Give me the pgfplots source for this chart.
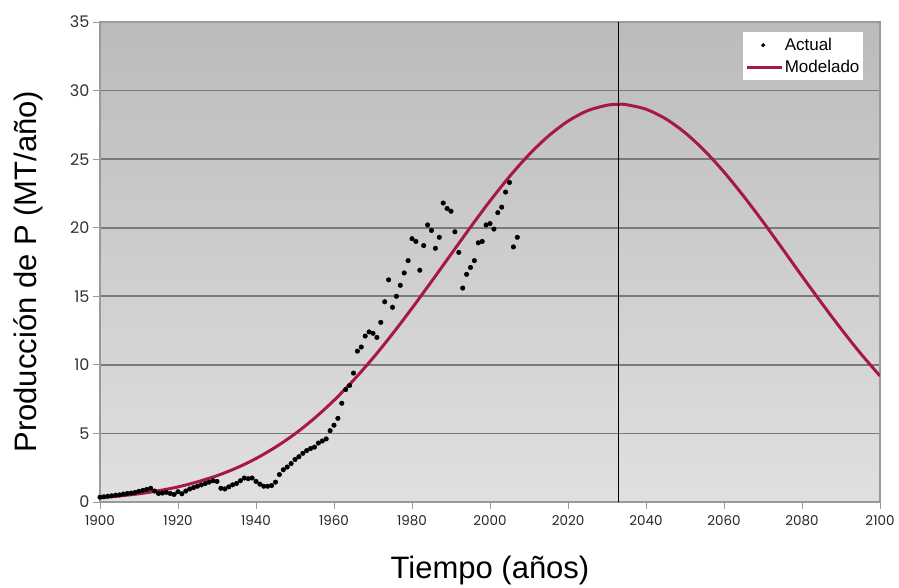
\documentclass[border=0pt]{standalone}
\usepackage{fontspec}
\setmainfont{Liberation Sans}
\newfontfamily\tickfont{Poppins}
\usepackage{pgfplots}
\usepackage{pgfplotstable}
\pgfplotsset{compat=1.18}

\definecolor{modelred}{HTML}{A8164F}
\definecolor{gridgray}{HTML}{7A7A7A}
\definecolor{frame}{HTML}{9A9A9A}
\definecolor{bgtop}{HTML}{BBBBBB}
\definecolor{bgbottom}{HTML}{E0E0E0}

% Annual phosphate rock production (MT/year)
\pgfplotstableread{
year prod
1900 0.35
1901 0.38
1902 0.42
1903 0.45
1904 0.50
1905 0.52
1906 0.58
1907 0.62
1908 0.65
1909 0.70
1910 0.78
1911 0.85
1912 0.92
1913 1.00
1914 0.80
1915 0.62
1916 0.65
1917 0.70
1918 0.62
1919 0.55
1920 0.75
1921 0.60
1922 0.80
1923 0.95
1924 1.05
1925 1.15
1926 1.25
1927 1.35
1928 1.45
1929 1.55
1930 1.50
1931 1.00
1932 0.95
1933 1.10
1934 1.25
1935 1.35
1936 1.55
1937 1.75
1938 1.70
1939 1.75
1940 1.50
1941 1.30
1942 1.15
1943 1.15
1944 1.20
1945 1.45
1946 2.00
1947 2.35
1948 2.55
1949 2.80
1950 3.10
1951 3.30
1952 3.55
1953 3.75
1954 3.90
1955 4.00
1956 4.30
1957 4.45
1958 4.60
1959 5.20
1960 5.60
1961 6.10
1962 7.20
1963 8.20
1964 8.50
1965 9.40
1966 11.00
1967 11.30
1968 12.10
1969 12.40
1970 12.30
1971 12.00
1972 13.10
1973 14.60
1974 16.20
1975 14.20
1976 15.00
1977 15.80
1978 16.70
1979 17.60
1980 19.20
1981 19.00
1982 16.90
1983 18.70
1984 20.20
1985 19.80
1986 18.50
1987 19.30
1988 21.80
1989 21.40
1990 21.20
1991 19.70
1992 18.20
1993 15.60
1994 16.60
1995 17.10
1996 17.60
1997 18.90
1998 19.00
1999 20.20
2000 20.30
2001 19.90
2002 21.10
2003 21.50
2004 22.60
2005 23.30
2006 18.60
2007 19.30
}\actualdata

% Modelled production curve (MT/year)
\pgfplotstableread{
year prod
1900 0.31
1905 0.44
1910 0.60
1915 0.82
1920 1.10
1925 1.47
1930 1.92
1935 2.48
1940 3.17
1945 4.00
1950 4.97
1955 6.11
1960 7.41
1965 8.88
1970 10.50
1975 12.26
1980 14.13
1985 16.08
1990 18.06
1995 20.04
2000 21.95
2005 23.73
2010 25.33
2015 26.69
2020 27.77
2025 28.53
2030 28.93
2033 29.00
2035 28.97
2040 28.64
2045 27.95
2050 26.93
2055 25.62
2060 24.06
2065 22.31
2070 20.43
2075 18.46
2080 16.47
2085 14.52
2090 12.63
2095 10.84
2100 9.19
}\modeldata

\begin{document}
\begin{tikzpicture}
\begin{axis}[
  scale only axis,
  width=780pt, height=480pt,
  xmin=1900, xmax=2100, ymin=0, ymax=35,
  xtick={1900,1920,...,2100},
  ytick={0,5,...,35},
  axis background/.style={top color=bgtop, bottom color=bgbottom},
  ymajorgrids,
  major grid style={color=gridgray, line width=1.8pt},
  axis line style={color=frame, line width=1.2pt},
  tick align=outside, tick pos=left,
  major tick length=7pt,
  tick style={color=frame, line width=0.8pt},
  /pgf/number format/assume math mode=true,
  /pgf/number format/1000 sep={},
  x tick label style={font=\tickfont\fontsize{13.5}{15}\selectfont, text=black!85, yshift=-3pt},
  y tick label style={font=\tickfont\fontsize{16}{18}\selectfont, text=black!80},
  xlabel={Tiempo (años)},
  ylabel={Producción de P (MT/año)},
  xlabel style={font=\fontsize{31}{36}\selectfont, at={(axis description cs:0.5,-0.142)}, anchor=center},
  ylabel style={font=\fontsize{31}{36}\selectfont, at={(axis description cs:-0.092,0.48)}, anchor=center},
  legend style={at={(0.979,0.979)}, anchor=north east, draw=none, fill=white,
    font=\fontsize{17}{19}\selectfont, inner xsep=3pt, inner ysep=4pt, row sep=4pt,
    nodes={inner xsep=1pt}},
  legend cell align=left,
]
\addplot[only marks, mark=*, mark size=2.3pt, color=black,
  legend image code/.code={\fill[black] (0.56cm,0cm) circle (1.8pt);}]
  table[x=year, y=prod] {\actualdata};
\addlegendentry{Actual}
\addplot[modelred, line width=3pt, smooth,
  legend image code/.code={\draw[modelred, line width=3pt] (0cm,0cm) -- (1.23cm,0cm);}]
  table[x=year, y=prod] {\modeldata};
\addlegendentry{Modelado}
\addplot[black, line width=1.5pt, forget plot] coordinates {(2033,0) (2033,35)};
\end{axis}
\pgfresetboundingbox
\path (-100pt,-86pt) rectangle (799pt,502pt);
\end{tikzpicture}
\end{document}
